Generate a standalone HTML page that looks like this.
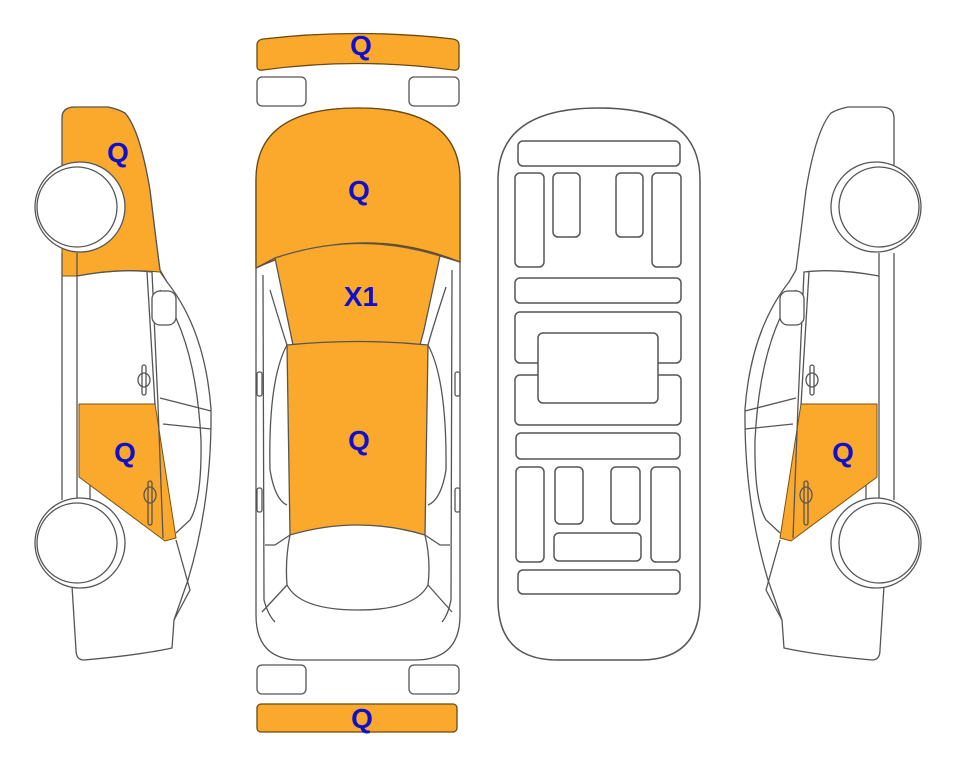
<!DOCTYPE html>
<html><head><meta charset="utf-8"><style>
html,body{margin:0;padding:0;background:#fff;width:963px;height:768px;overflow:hidden}
svg{display:block}
text{font-family:"Liberation Sans",Arial,sans-serif;font-weight:bold;font-size:28px;fill:#1010CC;text-anchor:middle}
</style></head><body>
<svg width="963" height="768" viewBox="0 0 963 768" xmlns="http://www.w3.org/2000/svg">
<defs>
<path id="sbody" d="M62,165 L62,118 Q62,107 75,107 L108,107 Q118,109 125,113 Q140,130 150,190 Q156,240 160,270 L167,282 Q205,330 211,409 Q212,500 188,580 L174,620 L172,648 Q140,655 84,660 Q76,660 76,650 L72,586 L62,586 L62,165 Z" fill="#fff" stroke="none"/>
<g id="slines" fill="none" stroke="#555" stroke-width="1.3">
  <path d="M62,165 L62,118 Q62,107 75,107 L108,107 Q118,109 125,113 Q140,130 150,190 Q156,240 160,270 L167,282 Q205,330 211,409 Q212,500 188,580 L174,620 L172,648 Q140,655 84,660 Q76,660 76,650 L72,586"/>
  <path d="M62,253 L62,500 M77,253 L77,500"/>
  <path d="M160,290 Q196,340 201,440 Q202,500 190,520 L176,533"/>
  <path d="M77,276 Q120,268 152,272 L158,405 L163,538"/>
  <path d="M147,272 L155,405"/>
  <rect x="152" y="291" width="24" height="34" rx="8" fill="#fff"/>
  <path d="M160,398 L211,411 M163,424 L211,429"/>
  <path d="M176,540 L190,590 L174,620"/>
  <path d="M90,485 L90,505"/>
  <rect x="142" y="365" width="4" height="30" rx="2"/><ellipse cx="144" cy="380" rx="6" ry="7"/>
  <rect x="148" y="481" width="4" height="44" rx="2"/><ellipse cx="150" cy="495" rx="6" ry="8"/>
</g>
<g id="swheels" fill="#fff" stroke="#555" stroke-width="1.3">
  <circle cx="80" cy="207" r="45"/><circle cx="77" cy="207" r="40"/>
  <circle cx="80" cy="543" r="45"/><circle cx="77" cy="543" r="40"/>
</g>
<path id="lowor" d="M79,404 L155,404 L176,538 L165,541 L79,477 Z" fill="#FBA92D" stroke="#7a5210" stroke-width="1"/>
</defs>

<!-- LEFT CAR -->
<use href="#sbody"/>
<path d="M62,118 Q62,107 75,107 L108,107 Q118,109 125,113 Q140,130 150,190 Q156,240 160,270 L167,282 L160,272 Q120,268 77,276 L62,276 Z" fill="#FBA92D" stroke="#7a5210" stroke-width="1"/>
<use href="#lowor"/>
<use href="#slines"/>
<use href="#swheels"/>
<text x="118" y="162">Q</text>
<text x="125" y="462">Q</text>

<!-- RIGHT CAR (mirror) -->
<g transform="translate(956,0) scale(-1,1)">
<use href="#sbody"/>
<use href="#lowor"/>
<use href="#slines"/>
<use href="#swheels"/>
</g>
<text x="843" y="462">Q</text>

<!-- TOP VIEW CAR -->
<g fill="none" stroke="#555" stroke-width="1.3">
  <path d="M257,45 Q257,40 263,39 Q358,28 453,39 Q459,40 459,45 L459,66 Q459,71 453,70 Q358,57 263,70 Q257,71 257,66 Z" fill="#FBA92D" stroke="#6a4a10"/>
  <rect x="257" y="77" width="49" height="29" rx="5"/>
  <rect x="409" y="77" width="50" height="29" rx="5"/>
  <rect x="257" y="665" width="49" height="29" rx="5"/>
  <rect x="409" y="665" width="50" height="29" rx="5"/>
  <rect x="257" y="704" width="200" height="28" rx="4" fill="#FBA92D" stroke="#6a4a10"/>
  <path d="M256,180 Q256,108 358,108 Q460,108 460,180 L460,615 Q460,660 415,660 L300,660 Q256,660 256,615 Z" fill="#fff"/>
  <path d="M256,268 L256,180 Q256,108 358,108 Q460,108 460,180 L460,262 Q358,221 256,268 Z" fill="#FBA92D" stroke="#6a4a10"/>
  <path d="M275,258 Q358,230 440,256 L424,330 L420,345 Q358,340 293,345 Z" fill="#FBA92D"/>
  <path d="M287,345 Q358,338 428,345 L425,535 Q358,515 290,535 Z" fill="#FBA92D"/>
  <path d="M256,268 L275,258 M460,262 L440,256"/>
  <path d="M263,275 L264,600 Q268,615 275,622 M452,270 L451,600 Q448,615 442,622"/>
  <path d="M270,290 Q282,330 287,345 M446,287 Q432,330 428,345"/>
  <path d="M287,345 Q268,380 270,470 Q275,500 287,505 M428,345 Q447,380 446,470 Q441,500 428,505"/>
  <path d="M290,535 Q285,560 287,585 Q300,610 358,610 Q415,610 428,585 Q431,560 425,535"/>
  <path d="M287,585 L262,612 M428,585 L452,612"/>
  <path d="M290,535 L275,545 L265,545 M425,535 L440,545 L450,545"/>
  <rect x="257" y="372" width="5" height="24" rx="2"/>
  <rect x="455" y="372" width="5" height="24" rx="2"/>
  <rect x="257" y="488" width="5" height="24" rx="2"/>
  <rect x="455" y="488" width="5" height="24" rx="2"/>
</g>
<text x="361" y="55">Q</text>
<text x="359" y="200">Q</text>
<text x="361" y="306">X1</text>
<text x="359" y="450">Q</text>
<text x="362" y="728">Q</text>

<!-- UNDERBODY -->
<g fill="#fff" stroke="#555" stroke-width="1.5">
  <path d="M498,180 Q498,108 599,108 Q700,108 700,180 L700,600 Q700,660 640,660 L558,660 Q498,660 498,600 Z"/>
  <rect x="518" y="141" width="162" height="25" rx="5"/>
  <rect x="515" y="173" width="29" height="94" rx="5"/>
  <rect x="553" y="173" width="27" height="64" rx="5"/>
  <rect x="616" y="173" width="27" height="64" rx="5"/>
  <rect x="652" y="173" width="29" height="94" rx="5"/>
  <rect x="515" y="278" width="166" height="25" rx="5"/>
  <rect x="515" y="312" width="166" height="51" rx="5"/>
  <rect x="515" y="375" width="166" height="50" rx="5"/>
  <rect x="538" y="333" width="120" height="70" rx="5"/>
  <rect x="516" y="433" width="164" height="26" rx="5"/>
  <rect x="516" y="467" width="28" height="95" rx="5"/>
  <rect x="555" y="467" width="28" height="57" rx="5"/>
  <rect x="611" y="467" width="29" height="57" rx="5"/>
  <rect x="651" y="467" width="29" height="95" rx="5"/>
  <rect x="554" y="533" width="87" height="28" rx="5"/>
  <rect x="518" y="570" width="162" height="24" rx="5"/>
</g>
</svg>
</body></html>
